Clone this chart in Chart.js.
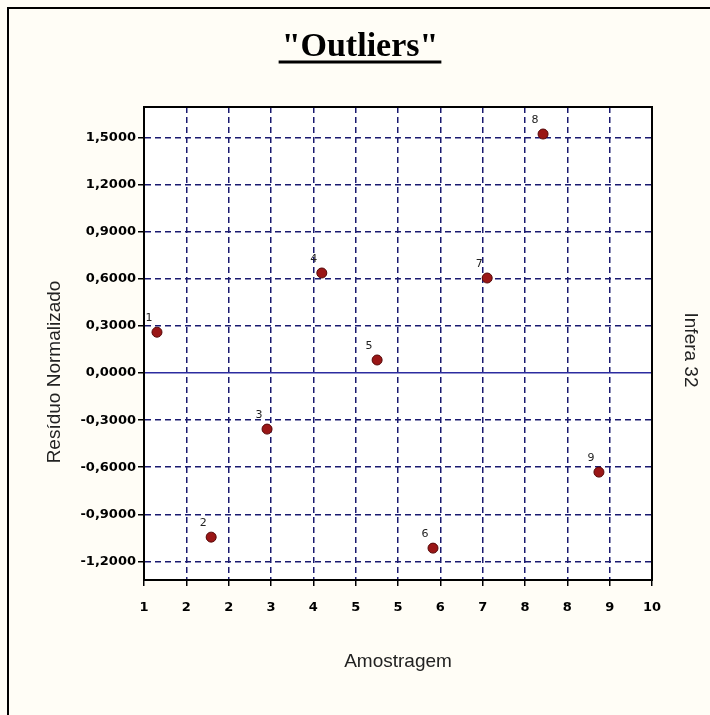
<!DOCTYPE html>
<html>
<head>
<meta charset="utf-8">
<script src="https://cdn.jsdelivr.net/npm/chart.js@4.4.0/dist/chart.umd.min.js"></script>
<style>
  html, body { margin: 0; padding: 0; background: #fffdf6; }
  #wrap { width: 710px; height: 715px; }
</style>
</head>
<body>
<div id="wrap"><canvas id="outliers" width="710" height="715"></canvas></div>
<script>
// sample ids, positions and normalised residuals
const amostras = ['1', '2', '3', '4', '5', '6', '7', '8', '9'];
const amostragem = [1.23, 2.19, 3.18, 4.15, 5.13, 6.12, 7.08, 8.07, 9.06];
const residuos = [0.26, -1.045, -0.357, 0.637, 0.083, -1.115, 0.605, 1.522, -0.631];

const xTicks = [1, 1.75, 2.5, 3.25, 4, 4.75, 5.5, 6.25, 7, 7.75, 8.5, 9.25, 10];
const xTickLabels = ['1', '2', '2', '3', '4', '5', '5', '6', '7', '8', '8', '9', '10'];
const yTicks = [-1.2, -0.9, -0.6, -0.3, 0, 0.3, 0.6, 0.9, 1.2, 1.5];
const yTickLabels = ['-1,2000', '-0,9000', '-0,6000', '-0,3000', '0,0000',
                     '0,3000', '0,6000', '0,9000', '1,2000', '1,5000'];

const tickFont = { family: 'DejaVu Sans', size: 13, weight: 'bold' };
const gridNavy = '#1a1a70';
const zeroLine = '#2c2ca0';

const isZero = c => c.tick && Math.abs(c.tick.value) < 1e-9;

// cream page, outer frame and white plot area
const paper = {
  id: 'paper',
  beforeDraw(chart) {
    const { ctx, chartArea: a } = chart;
    ctx.save();
    ctx.fillStyle = '#fffdf6';
    ctx.fillRect(0, 0, chart.width, chart.height);
    ctx.strokeStyle = '#000';
    ctx.lineWidth = 2;
    ctx.beginPath();
    ctx.moveTo(8, chart.height);
    ctx.lineTo(8, 8);
    ctx.lineTo(chart.width, 8);
    ctx.stroke();
    ctx.fillStyle = '#ffffff';
    ctx.fillRect(a.left, a.top, a.right - a.left, a.bottom - a.top);
    ctx.restore();
  },
  afterDraw(chart) {
    const { ctx, chartArea: a } = chart;
    ctx.save();
    ctx.strokeStyle = '#000';
    ctx.lineWidth = 2;
    ctx.strokeRect(a.left, a.top, a.right - a.left, a.bottom - a.top);

    // sample numbers next to the points
    const meta = chart.getDatasetMeta(0);
    ctx.fillStyle = '#222';
    ctx.font = '11px "DejaVu Sans"';
    ctx.textAlign = 'center';
    ctx.textBaseline = 'middle';
    meta.data.forEach((pt, i) => {
      ctx.fillText(amostras[i], pt.x - 8, pt.y - 14);
    });

    // title with underline
    ctx.fillStyle = '#000';
    ctx.font = 'bold 34px "Liberation Serif"';
    ctx.textBaseline = 'alphabetic';
    const tx = 360;
    ctx.fillText('"Outliers"', tx, 56);
    const w = ctx.measureText('"Outliers"').width;
    ctx.lineWidth = 3;
    ctx.beginPath();
    ctx.moveTo(tx - w / 2 - 3, 62);
    ctx.lineTo(tx + w / 2 + 3, 62);
    ctx.stroke();

    // axis titles
    ctx.fillStyle = '#222';
    ctx.font = '19px "Liberation Sans"';
    ctx.textBaseline = 'middle';
    ctx.fillText('Amostragem', 398, 662);

    ctx.save();
    ctx.translate(55, 372);
    ctx.rotate(-Math.PI / 2);
    ctx.fillText('Resíduo Normalizado', 0, 0);
    ctx.restore();

    ctx.save();
    ctx.translate(690, 350);
    ctx.rotate(Math.PI / 2);
    ctx.fillText('Infera 32', 0, 0);
    ctx.restore();

    ctx.restore();
  }
};

new Chart(document.getElementById('outliers'), {
  type: 'scatter',
  data: {
    datasets: [{
      label: 'Resíduo Normalizado',
      data: amostragem.map((x, i) => ({ x: x, y: residuos[i] })),
      pointRadius: 5,
      pointHoverRadius: 5,
      backgroundColor: '#9a1616',
      borderColor: '#560808',
      borderWidth: 1
    }]
  },
  options: {
    responsive: false,
    animation: false,
    devicePixelRatio: 1,
    layout: { padding: { top: 107, right: 58, left: 0, bottom: 0 } },
    plugins: {
      legend: { display: false },
      tooltip: { enabled: false }
    },
    scales: {
      x: {
        type: 'linear',
        min: 1,
        max: 10,
        afterBuildTicks: s => { s.ticks = xTicks.map(v => ({ value: v })); },
        afterFit: s => { s.height = 135; },
        ticks: {
          autoSkip: false,
          maxRotation: 0,
          padding: 14,
          color: '#000',
          font: tickFont,
          callback: (v, i) => xTickLabels[i]
        },
        grid: {
          color: gridNavy,
          lineWidth: 1.5,
          tickColor: '#000',
          tickLength: 6,
          tickWidth: 1.5
        },
        border: { color: '#000', width: 2, dash: [6, 4] }
      },
      y: {
        type: 'linear',
        min: -1.318,
        max: 1.694,
        afterBuildTicks: s => { s.ticks = yTicks.map(v => ({ value: v })); },
        afterFit: s => { s.width = 144; },
        ticks: {
          autoSkip: false,
          padding: 2,
          color: '#000',
          font: tickFont,
          callback: (v, i) => yTickLabels[i]
        },
        grid: {
          color: c => isZero(c) ? zeroLine : gridNavy,
          lineWidth: 1.5,
          tickColor: '#000',
          tickLength: 6,
          tickWidth: 1.5
        },
        border: { color: '#000', width: 2, dash: c => isZero(c) ? [] : [6, 4] }
      }
    }
  },
  plugins: [paper]
});
</script>
</body>
</html>
